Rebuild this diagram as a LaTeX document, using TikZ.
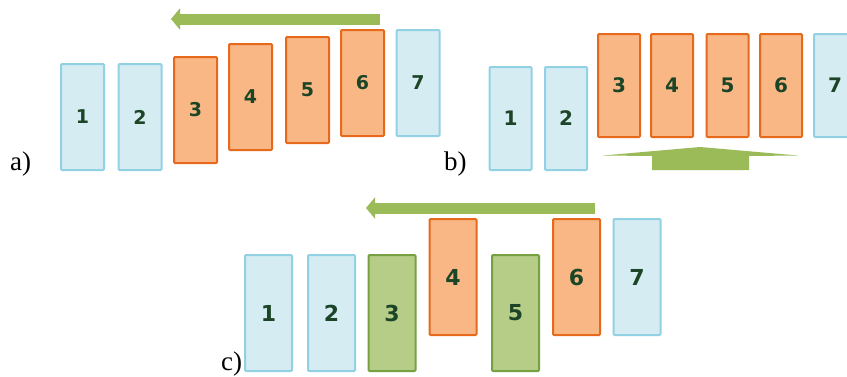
\documentclass[tikz,border=0pt]{standalone}
\usepackage{fontspec}
\setmainfont{Liberation Serif}
\newfontfamily\numfont{DejaVu Sans}
\usetikzlibrary{arrows.meta}
\definecolor{bfill}{HTML}{D5ECF2}
\definecolor{bline}{HTML}{92D1E4}
\definecolor{ofill}{HTML}{F8B784}
\definecolor{oline}{HTML}{E6691C}
\definecolor{gfill}{HTML}{B6CD88}
\definecolor{gline}{HTML}{76A042}
\definecolor{garrow}{HTML}{9BBB59}
\definecolor{numcol}{HTML}{1C4426}
\tikzset{
  card/.style={rectangle, line width=2pt, rounded corners=1pt, inner sep=0pt,
     text=numcol},
  bluecard/.style={card, draw=bline, fill=bfill},
  orangecard/.style={card, draw=oline, fill=ofill},
  greencard/.style={card, draw=gline, fill=gfill},
  cardA/.style={minimum width=43pt, minimum height=106pt, font=\numfont\bfseries\fontsize{19}{19}\selectfont},
  cardB/.style={minimum width=42pt, minimum height=103pt, font=\numfont\bfseries\fontsize{20}{20}\selectfont},
  cardC/.style={minimum width=47pt, minimum height=116pt, font=\numfont\bfseries\fontsize{22}{22}\selectfont},
  leftarrow/.style={draw=garrow, line width=11pt, -{Triangle[length=9pt,width=21pt]}},
  uparrow/.style={fill=garrow, draw=none},
  panellabel/.style={inner sep=0pt, anchor=base west, font=\fontsize{27}{27}\selectfont}
}
\begin{document}
\begin{tikzpicture}[x=1pt,y=-1pt]
\useasboundingbox (0,0) rectangle (847,376);
% panel a
\node[bluecard,cardA]   (a1) at (82.5,117) {1};
\node[bluecard,cardA]   (a2) at (140,117) {2};
\node[orangecard,cardA] (a3) at (195.5,110) {3};
\node[orangecard,cardA] (a4) at (250.5,97) {4};
\node[orangecard,cardA] (a5) at (307.5,90) {5};
\node[orangecard,cardA] (a6) at (362.5,83) {6};
\node[bluecard,cardA]   (a7) at (418,83) {7};
\coordinate (aS) at (380,19);
\coordinate (aE) at (171,19);
\draw[leftarrow] (aS) -- (aE);
\node[panellabel] (la) at (10,170) {a)};
% panel b
\node[bluecard,cardB]   (b1) at (510.5,118.5) {1};
\node[bluecard,cardB]   (b2) at (566,118.5) {2};
\node[orangecard,cardB] (b3) at (619,85.5) {3};
\node[orangecard,cardB] (b4) at (672,85.5) {4};
\node[orangecard,cardB] (b5) at (727.5,85.5) {5};
\node[orangecard,cardB] (b6) at (781,85.5) {6};
\node[bluecard,cardB]   (b7) at (835,85.5) {7};
\fill[uparrow] (603,155.5) -- (700,147) -- (798,155.5) -- (749,156) -- (749,170)
   -- (652,170) -- (652,156) -- cycle;
\node[panellabel] (lb) at (444,170) {b)};
% panel c
\node[bluecard,cardC]   (c1) at (268.5,313) {1};
\node[bluecard,cardC]   (c2) at (331.5,313) {2};
\node[greencard,cardC]  (c3) at (392,313) {3};
\node[orangecard,cardC] (c4) at (453,277) {4};
\node[greencard,cardC]  (c5) at (515.5,313) {5};
\node[orangecard,cardC] (c6) at (576.5,277) {6};
\node[bluecard,cardC]   (c7) at (637,277) {7};
\coordinate (cS) at (595,208);
\coordinate (cE) at (366,208);
\draw[leftarrow] (cS) -- (cE);
\node[panellabel] (lc) at (221,370) {c)};
\end{tikzpicture}
\end{document}
